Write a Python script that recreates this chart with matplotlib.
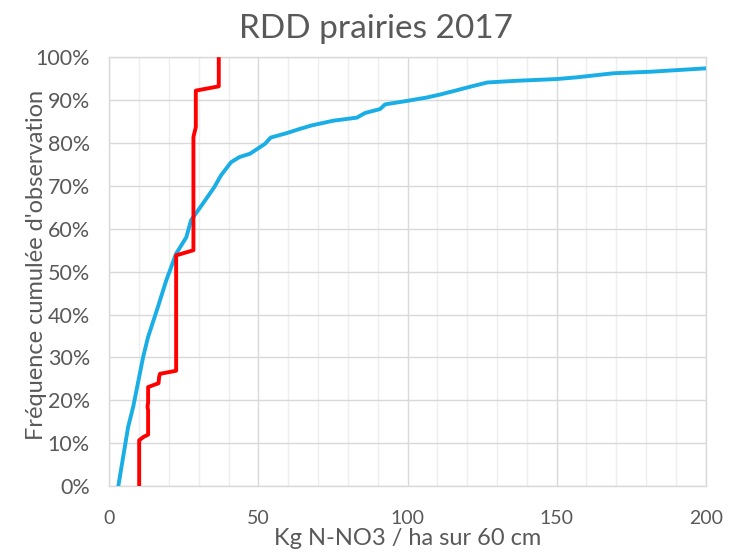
import numpy as np
import matplotlib
matplotlib.use('Agg')
import matplotlib.pyplot as plt
from matplotlib.ticker import MultipleLocator, FuncFormatter

# red series (step-like cumulative frequency)
red_x = [10, 10, 11.5, 13, 13, 12.8, 13, 13, 16.5, 16.7, 17, 22.4, 22.4, 28.2, 28.2, 29, 29, 36.7, 36.7]
red_y = [0, 10.7, 11.5, 12, 17.7, 18.5, 19.5, 23.1, 24, 25.5, 26.2, 26.9, 53.8, 55, 81.4, 83.7, 92.2, 93.2, 100]

# blue series
blue_x = [3, 6.3, 8, 11.3, 13, 16.3, 19.1, 22.4, 25.8, 27.4, 31.3, 35.2, 37.4, 40.8, 43.6,
          47.2, 52.2, 54.1, 59.5, 64, 67.9, 75.2, 83, 85.8, 90.8, 92.5, 99.8, 106.5, 111,
          116.6, 122.1, 126.8, 136.7, 150.1, 156.8, 169.1, 181.4, 200.2]
blue_y = [0, 13.8, 18.5, 30, 34.8, 41.8, 48, 54.2, 58, 62, 65.8, 69.7, 72.4, 75.5, 76.7,
          77.5, 79.8, 81.25, 82.3, 83.3, 84.1, 85.2, 85.9, 87, 87.9, 89, 89.8, 90.6, 91.3,
          92.3, 93.3, 94.1, 94.5, 94.9, 95.3, 96.25, 96.6, 97.4]

title = "RDD prairies 2017"
xlabel = "Kg N-NO3 / ha sur 60 cm"
ylabel = "Fréquence cumulée d'observation"

plt.rcParams['font.family'] = ['Lato', 'DejaVu Sans']
txt = '#595959'

fig = plt.figure(figsize=(7.29, 5.55), dpi=100)
ax = fig.add_axes([0.150, 0.124, 0.818, 0.773])

ax.plot(blue_x, blue_y, color='#19AEE6', lw=2.8, solid_capstyle='butt', zorder=3)
ax.plot(red_x, red_y, color='#FF0000', lw=2.8, solid_capstyle='butt', zorder=4)

ax.set_xlim(0, 200)
ax.set_ylim(0, 100)
ax.xaxis.set_major_locator(MultipleLocator(50))
ax.xaxis.set_minor_locator(MultipleLocator(10))
ax.yaxis.set_major_locator(MultipleLocator(10))
ax.yaxis.set_major_formatter(FuncFormatter(lambda v, p: '%d%%' % v))

ax.grid(True, which='major', color='#d9d9d9', lw=1.0, zorder=0)
ax.grid(True, which='minor', axis='x', color='#eeeeee', lw=1.0, zorder=0)
ax.set_axisbelow(True)
for s in ax.spines.values():
    s.set_color('#d9d9d9')
    s.set_linewidth(1.0)

ax.tick_params(which='both', length=0, labelcolor=txt)
ax.tick_params(axis='x', labelsize=14, pad=17)
ax.tick_params(axis='y', labelsize=15.5, pad=14)

ax.set_xlabel(xlabel, fontsize=17, color=txt, va='baseline')
ax.xaxis.set_label_coords(0.5, -0.1375)
ax.set_ylabel(ylabel, fontsize=17, color=txt, va='baseline')
ax.yaxis.set_label_coords(-0.1115, 0.515)

fig.text(0.516, 1 - 38 / 555, title, fontsize=24, color=txt, ha='center', va='baseline')

fig.savefig('out.png', dpi=100)
